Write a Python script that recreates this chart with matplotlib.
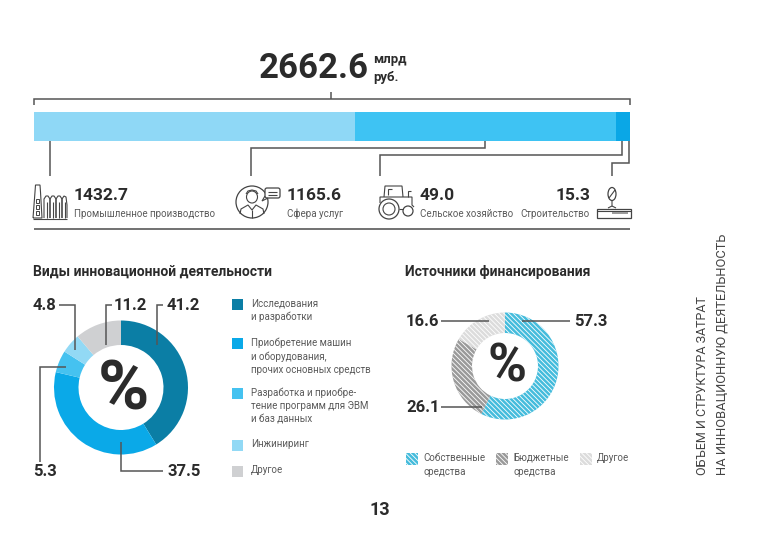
import matplotlib
matplotlib.use('Agg')
import matplotlib.pyplot as plt
from matplotlib.patches import Circle, Rectangle, Ellipse, FancyBboxPatch

plt.rcParams['font.family'] = ['Roboto', 'DejaVu Sans']
plt.rcParams['hatch.linewidth'] = 0.6

W, H = 758, 533
DARK = '#2b2b2b'
GREY = '#5a5a5a'
LINE = '#555555'

total_label = '2662.6'
sector_values = [1432.7, 1165.6, 49.0, 15.3]
sector_names = ['Промышленное производство', 'Сфера услуг', 'Сельское хозяйство', 'Строительство']
sector_colors = ['#8fd8f6', '#3ec3f3', '#0aa7e6', '#0aa7e6']

activity_values = [41.2, 37.5, 5.3, 4.8, 11.2]
activity_names = ['Исследования\nи разработки',
                  'Приобретение машин\nи оборудования,\nпрочих основных средств',
                  'Разработка и приобре-\nтение программ для ЭВМ\nи баз данных',
                  'Инжиниринг', 'Другое']
activity_colors = ['#0b7ea5', '#0aa9e8', '#45c2f0', '#92d9f5', '#cfd0d2']

funding_values = [57.3, 26.1, 16.6]
funding_names = ['Собственные\nсредства', 'Бюджетные\nсредства', 'Другое']
funding_colors = ['#45bcdc', '#9a9a9a', '#dcdcdc']

fig = plt.figure(figsize=(W / 100, H / 100), dpi=100, facecolor='white')
# canvas in pixels, y going down like the picture, sits on top of bar and donuts
ax = fig.add_axes([0, 0, 1, 1])
ax.set_xlim(0, W)
ax.set_ylim(H, 0)
ax.axis('off')
ax.set_zorder(10)


def sub_axes(x0, y0, x1, y1):
    return fig.add_axes([x0 / W, 1 - y1 / H, (x1 - x0) / W, (y1 - y0) / H])


def poly(xs, ys, lw=1.1, color=LINE):
    ax.plot(xs, ys, color=color, lw=lw, solid_capstyle='butt', solid_joinstyle='miter')


def donut(cx, cy, r_out, r_in, values, colors, hatched=False):
    a = sub_axes(cx - r_out, cy - r_out, cx + r_out, cy + r_out)
    wedges, _ = a.pie(values, colors=colors, startangle=90, counterclock=False, radius=1,
                      wedgeprops=dict(width=1 - r_in / r_out, linewidth=0))
    a.set_xlim(-1, 1)
    a.set_ylim(-1, 1)
    if hatched:
        for w in wedges:
            w.set_edgecolor('white')
            w.set_hatch('\\' * 7)


# total on top
ax.text(259, 69, total_label, fontsize=25, fontweight='bold', color=DARK, va='center', ha='left')
ax.text(373, 60, 'млрд', fontsize=9.5, fontweight='bold', color=DARK, va='center')
ax.text(373, 78, 'руб.', fontsize=9.5, fontweight='bold', color=DARK, va='center')

# bracket
poly([34, 34, 630, 630], [105, 99, 99, 105])
poly([331, 331], [92, 99])

# stacked bar
bar = sub_axes(34, 112, 630, 141)
left = 0
for v, c in zip(sector_values, sector_colors):
    bar.barh(0, v, left=left, height=1, color=c, linewidth=0)
    left += v
bar.set_xlim(0, sum(sector_values))
bar.set_ylim(-0.5, 0.5)
bar.axis('off')

# leader lines
poly([50, 50], [141, 176])
poly([485, 485, 251, 251], [141, 148, 148, 176])
poly([622, 622, 380, 380], [141, 155, 155, 176])
poly([629, 629, 612, 612], [141, 163, 163, 176])

# sector captions
value_x = [74, 287, 420, 590]
aligns = ['left', 'left', 'left', 'right']
for v, name, x, al in zip(sector_values, sector_names, value_x, aligns):
    ax.text(x, 195, f'{v:.1f}', fontsize=12.5, fontweight='bold', color=DARK, va='center', ha=al)
    ax.text(x, 214, name, fontsize=7, color=GREY, va='center', ha=al)
poly([34, 630], [229, 229], lw=1.3, color='#666666')

# factory icon
ic = dict(lw=0.8, color='#444444')
poly([33, 35, 35.5, 40, 40.5, 42, 33], [218, 192, 185, 185, 192, 218, 218], **ic)
poly([33, 67], [218.5, 218.5], **ic)
for x in [44, 50, 56]:
    poly([x, x, x + 2, x + 4, x + 6, x + 6], [218, 199, 196, 196, 199, 218], **ic)
poly([62, 62, 64, 66, 67, 67], [218, 199, 196, 197, 205, 218], **ic)
for x in [47, 53, 59, 65]:
    poly([x, x], [202, 218], **ic)
for y in [199, 205, 211]:
    ax.add_patch(Rectangle((36, y), 3, 3.5, fill=False, lw=0.7, ec='#444444'))

# person icon
ax.add_patch(Circle((252, 202), 16, fill=False, lw=0.9, ec='#444444'))
ax.add_patch(Ellipse((252, 197), 11, 12, fill=False, lw=0.8, ec='#444444'))
poly([246, 248, 252, 256, 258], [194, 191, 190, 191, 194], **ic)
poly([240, 241, 248, 252, 256, 263, 264], [214, 209, 205, 210, 205, 209, 214], **ic)
poly([252, 252], [210, 218], **ic)
ax.add_patch(FancyBboxPatch((265, 188), 15, 10, boxstyle='round,pad=0,rounding_size=2',
                            fc='white', ec='#444444', lw=0.9))
poly([265, 262, 268], [196, 201, 198], **ic)
poly([268, 277], [191.5, 191.5], **ic)
poly([268, 277], [194.5, 194.5], **ic)

# tractor icon
ax.add_patch(Circle((389, 209), 10, fill=False, lw=0.9, ec='#444444'))
ax.add_patch(Circle((389, 209), 6, fill=False, lw=0.8, ec='#444444'))
ax.add_patch(Circle((408, 211), 5, fill=False, lw=0.9, ec='#444444'))
poly([384, 385, 402, 403], [197, 186, 186, 197], **ic)
poly([380, 380, 412, 412, 414], [203, 197, 197, 205, 207], **ic)
poly([399, 403], [209, 209], **ic)
poly([408, 408, 411], [197, 191, 191], **ic)
poly([388, 388, 392], [195, 189, 189], **ic)

# crane hook icon
ax.add_patch(Ellipse((612, 194), 8, 13, fill=False, lw=0.9, ec='#444444'))
poly([609, 615], [198, 190], **ic)
poly([612, 612, 608], [201, 206, 208], **ic)
poly([612, 616], [206, 208], **ic)
ax.add_patch(Rectangle((597, 209), 34, 9, fill=False, lw=0.9, ec='#444444'))
poly([597, 631], [211, 211], **ic)
poly([612, 628], [213, 213], lw=1.2, color='#888888')

# left block
ax.text(33, 272, 'Виды инновационной деятельности', fontsize=10, fontweight='bold', color=DARK, va='center')
donut(121, 387.5, 67, 42.5, activity_values, activity_colors)
ax.text(123.5, 391, '%', fontsize=50, fontweight='bold', color=DARK, ha='center', va='center')

act_text_x = [167, 168, 33, 33, 147]
act_text_y = [305, 471, 471, 305, 305]
act_ha = ['left', 'left', 'left', 'left', 'right']
for v, x, y, al in zip(activity_values, act_text_x, act_text_y, act_ha):
    ax.text(x, y, f'{v}', fontsize=12, fontweight='bold', color=DARK, ha=al, va='center')
poly([163, 157, 157], [305, 305, 345])
poly([121, 121, 163], [442, 471, 471])
poly([66, 40, 40], [367, 367, 462])
poly([59, 75, 75], [305, 305, 350])
poly([112, 106, 106], [305, 305, 345])

swatch_y = [299, 338, 388, 440, 466]
for name, c, y in zip(activity_names, activity_colors, swatch_y):
    ax.add_patch(Rectangle((232, y), 11, 10.5, fc=c, lw=0))
    ax.text(251, y - 1, name, fontsize=7, color=GREY, va='top', ha='left', linespacing=1.45)

# right block
ax.text(405, 272, 'Источники финансирования', fontsize=10, fontweight='bold', color=DARK, va='center')
donut(505, 366, 53.5, 33, funding_values, funding_colors, hatched=True)
ax.text(506.5, 367, '%', fontsize=38, fontweight='bold', color=DARK, ha='center', va='center')

fund_text_x = [574, 406, 406]
fund_text_y = [321, 407, 321]
for v, x, y in zip(funding_values, fund_text_x, fund_text_y):
    ax.text(x, y, f'{v}', fontsize=12, fontweight='bold', color=DARK, ha='left', va='center')
poly([522, 570], [321, 321])
poly([441, 482], [407, 407])
poly([441, 489], [321, 321])

fund_swatch_x = [406, 496, 580]
for name, c, x in zip(funding_names, funding_colors, fund_swatch_x):
    ax.add_patch(Rectangle((x, 453), 11.5, 12, fc=c, ec='white', hatch='\\' * 7, lw=0))
    ax.text(x + 17, 453, name, fontsize=7, color=GREY, va='top', ha='left', linespacing=1.45)

# side title and page number
ax.text(703, 475, 'ОБЪЕМ И СТРУКТУРА ЗАТРАТ', fontsize=9, color='#444444', rotation=90,
        ha='center', va='bottom')
ax.text(722, 475, 'НА ИННОВАЦИОННУЮ ДЕЯТЕЛЬНОСТЬ', fontsize=9.3, color='#444444', rotation=90,
        ha='center', va='bottom')
ax.text(380, 510, '13', fontsize=13, fontweight='bold', color=DARK, ha='center', va='center')

fig.savefig('out.png', dpi=100)
